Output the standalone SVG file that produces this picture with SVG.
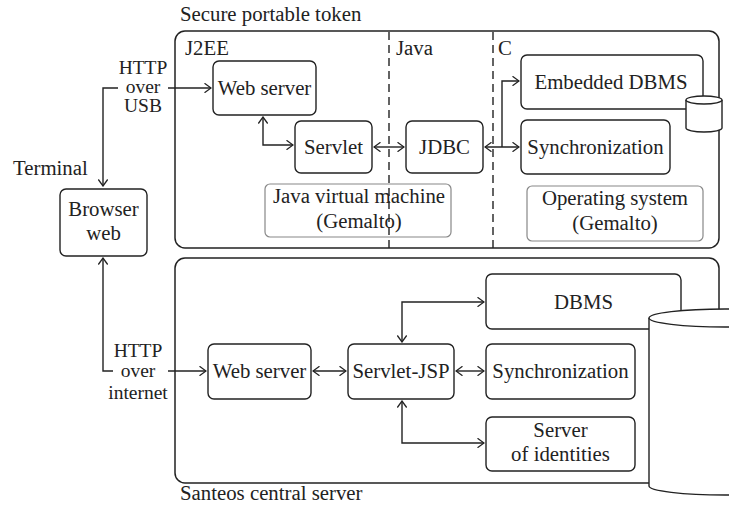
<svg xmlns="http://www.w3.org/2000/svg" width="729" height="511" viewBox="0 0 729 511">
<defs>
<marker id="ah" viewBox="0 0 10 10" refX="9" refY="5" markerWidth="10" markerHeight="10" markerUnits="userSpaceOnUse" orient="auto-start-reverse">
<path d="M2.5,0.3 L9,5 L2.5,9.7" fill="none" stroke="#222" stroke-width="1.3"/>
</marker>
<style>
text{font-family:"Liberation Serif","DejaVu Serif","Noto Serif",serif;font-size:20.8px;fill:#222}
.c{text-anchor:middle}
.s{font-size:19.5px}
.box{fill:none;stroke:#222;stroke-width:1.4}
.gbox{fill:none;stroke:#888;stroke-width:1.2}
.outer{fill:none;stroke:#222;stroke-width:1.5}
.dash{stroke:#222;stroke-width:1.4;stroke-dasharray:8,5}
.ln{fill:none;stroke:#222;stroke-width:1.4}
.cyl{fill:#fff;stroke:#222;stroke-width:1.4}
</style>
</defs>
<rect width="729" height="511" fill="#fff"/>

<g id="token">
<rect class="outer" x="175" y="31" width="544" height="217" rx="10"/>
<text x="180" y="21">Secure portable token</text>
<line class="dash" x1="389" y1="32" x2="389" y2="248"/>
<line class="dash" x1="493" y1="32" x2="493" y2="248"/>
<text x="185" y="55">J2EE</text>
<text x="396" y="55">Java</text>
<text x="498" y="55">C</text>
</g>

<g id="central">
<rect class="outer" x="175" y="258" width="544" height="225" rx="10"/>
<text x="180" y="500">Santeos central server</text>
</g>

<g id="terminal">
<text x="13" y="175">Terminal</text>
</g>

<g id="browser">
<rect class="box" x="60" y="189" width="87" height="67" rx="6"/>
<text class="c" x="103.5" y="216">Browser</text>
<text class="c" x="103.5" y="240">web</text>
</g>

<g id="tok-web">
<rect class="box" x="213" y="61" width="103" height="54" rx="6"/>
<text class="c" x="264.5" y="95">Web server</text>
</g>
<g id="tok-servlet">
<rect class="box" x="295" y="121" width="77" height="52" rx="6"/>
<text class="c" x="333.5" y="154">Servlet</text>
</g>
<g id="tok-jdbc">
<rect class="box" x="406" y="121" width="77" height="52" rx="6"/>
<text class="c" x="444.5" y="154">JDBC</text>
</g>
<g id="tok-edbms">
<rect class="box" x="521" y="55" width="182" height="54" rx="6"/>
<text class="c" x="611" y="89">Embedded DBMS</text>
</g>
<g id="tok-sync">
<rect class="box" x="521" y="120" width="149" height="54" rx="6"/>
<text class="c" x="595.5" y="154">Synchronization</text>
</g>
<g id="tok-cyl">
<path class="cyl" d="M686,100 L686,128 A18,4 0 0 0 722,128 L722,100"/>
<ellipse class="cyl" cx="704" cy="100" rx="18" ry="4"/>
</g>
<g id="jvm">
<rect class="gbox" x="265" y="184" width="186" height="53" rx="5"/>
<text class="c" x="359" y="203">Java virtual machine</text>
<text class="c" x="359" y="228">(Gemalto)</text>
</g>
<g id="os">
<rect class="gbox" x="527" y="186" width="176" height="55" rx="5"/>
<text class="c" x="615" y="205">Operating system</text>
<text class="c" x="615" y="230">(Gemalto)</text>
</g>

<g id="srv-web">
<rect class="box" x="208" y="344" width="103" height="55" rx="6"/>
<text class="c" x="259.5" y="378">Web server</text>
</g>
<g id="srv-jsp">
<rect class="box" x="348" y="344" width="106" height="55" rx="6"/>
<text class="c" x="401" y="378">Servlet-JSP</text>
</g>
<g id="srv-dbms">
<rect class="box" x="486" y="274" width="195" height="55" rx="6"/>
<text class="c" x="583.5" y="309">DBMS</text>
</g>
<g id="srv-sync">
<rect class="box" x="486" y="344" width="149" height="55" rx="6"/>
<text class="c" x="560.5" y="378">Synchronization</text>
</g>
<g id="srv-ident">
<rect class="box" x="486" y="417" width="149" height="54" rx="6"/>
<text class="c" x="560.5" y="437">Server</text>
<text class="c" x="560.5" y="461">of identities</text>
</g>
<g id="srv-cyl">
<path class="cyl" d="M649,318 L649,486 A76,9 0 0 0 801,486 L801,318"/>
<ellipse class="cyl" cx="725" cy="318" rx="76" ry="9"/>
</g>

<g id="connectors">
<text class="c s" x="143" y="74">HTTP</text>
<text class="c s" x="143" y="93">over</text>
<text class="c s" x="143" y="112">USB</text>
<path class="ln" d="M118,88 L103,88 L103,186" marker-end="url(#ah)"/>
<line class="ln" x1="168" y1="88" x2="211" y2="88" marker-end="url(#ah)"/>
<path class="ln" d="M263,117 L263,145 L293,145" marker-start="url(#ah)" marker-end="url(#ah)"/>
<line class="ln" x1="374" y1="147" x2="404" y2="147" marker-start="url(#ah)" marker-end="url(#ah)"/>
<line class="ln" x1="485" y1="147" x2="519" y2="147" marker-start="url(#ah)" marker-end="url(#ah)"/>
<path class="ln" d="M502,147 L502,81 L519,81" marker-end="url(#ah)"/>

<text class="c s" x="138" y="357">HTTP</text>
<text class="c s" x="138" y="377">over</text>
<text class="c s" x="138" y="399">internet</text>
<path class="ln" d="M103,258 L103,371 L113,371" marker-start="url(#ah)"/>
<line class="ln" x1="168" y1="371" x2="206" y2="371" marker-end="url(#ah)"/>
<line class="ln" x1="313" y1="371" x2="346" y2="371" marker-start="url(#ah)" marker-end="url(#ah)"/>
<line class="ln" x1="456" y1="371" x2="484" y2="371" marker-start="url(#ah)" marker-end="url(#ah)"/>
<path class="ln" d="M402,342 L402,302 L484,302" marker-start="url(#ah)" marker-end="url(#ah)"/>
<path class="ln" d="M402,401 L402,443 L484,443" marker-start="url(#ah)" marker-end="url(#ah)"/>
</g>
</svg>
